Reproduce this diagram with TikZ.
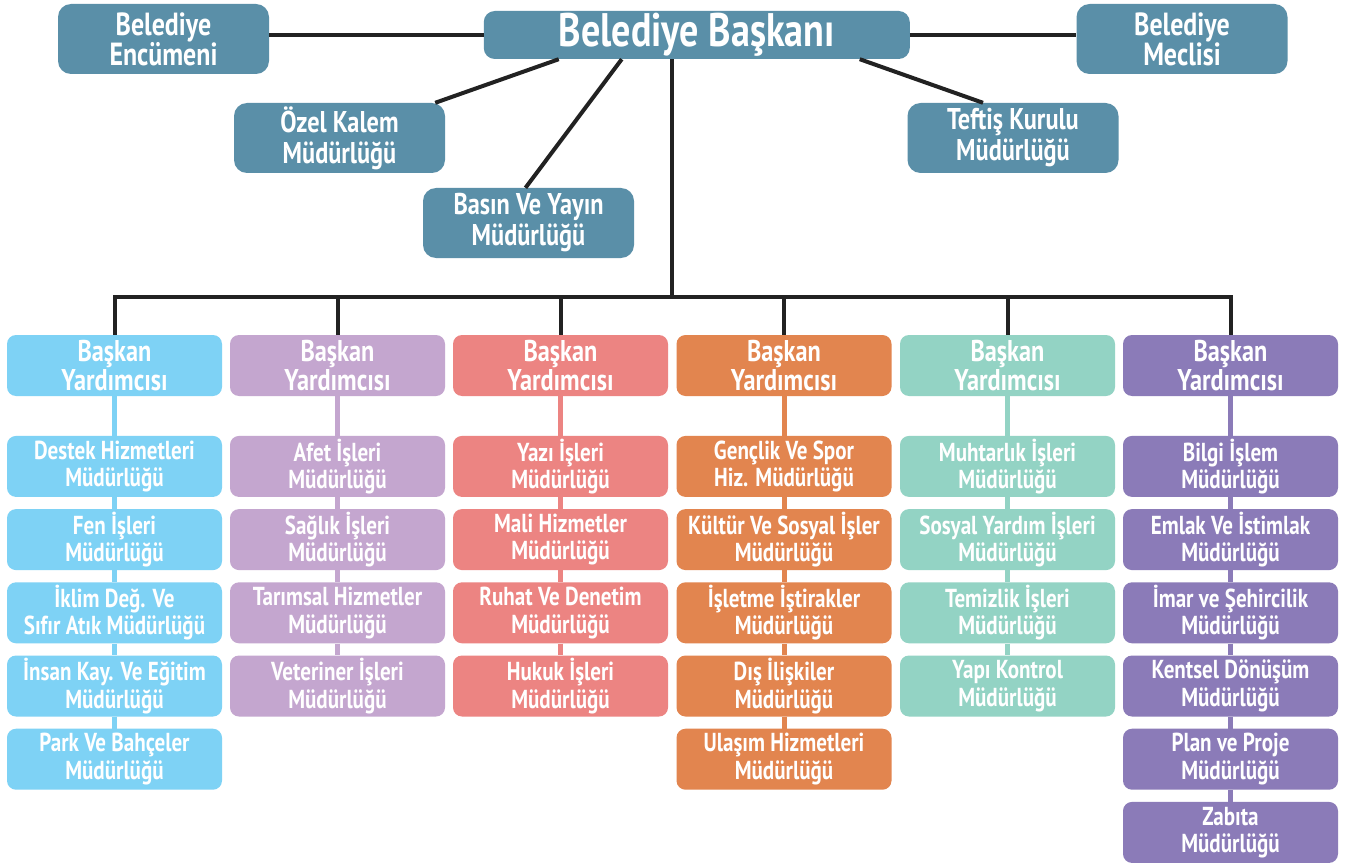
\documentclass[tikz,border=0pt]{standalone}
\usepackage{fontspec}
\setmainfont{PT Sans}[FakeStretch=0.81]
\usepackage{xcolor}
\usepackage{tikz}
\usetikzlibrary{positioning}
\definecolor{headteal}{RGB}{90,143,168}
\definecolor{skyblue}{RGB}{126,210,245}
\definecolor{lilacpurple}{RGB}{196,166,207}
\definecolor{salmonred}{RGB}{236,132,130}
\definecolor{burntorange}{RGB}{226,133,79}
\definecolor{mintgreen}{RGB}{147,211,196}
\definecolor{deeppurple}{RGB}{139,123,184}
\definecolor{darkline}{RGB}{34,34,34}

\begin{document}
\begin{tikzpicture}[x=1pt, y=-1pt, node distance=11.8pt]
    \tikzstyle{head} = [rectangle, rounded corners=13pt, minimum width=211pt, minimum height=70pt, inner sep=0pt, align=center, fill=headteal, text=white, font=\fontsize{32}{30}\selectfont\bfseries]
    \tikzstyle{mayor} = [head, rounded corners=11pt, minimum width=426pt, minimum height=48pt, font=\fontsize{47}{47}\selectfont\bfseries]
    \tikzstyle{office} = [head, font=\fontsize{30}{31}\selectfont\bfseries]
    \tikzstyle{deputy} = [rectangle, rounded corners=9pt, minimum width=215pt, minimum height=61pt, inner sep=0pt, align=center, text=white, font=\fontsize{30}{26}\selectfont\bfseries]
    \tikzstyle{unit} = [deputy, font=\fontsize{26}{27.5}\selectfont\bfseries]
    \tikzstyle{link} = [draw=darkline, line width=4pt]
    \tikzstyle{chain} = [line width=5pt]

    \path[use as bounding box, fill=white] (0,0) rectangle (1358,864);

    % Top level
    \node [mayor] (baskan) at (696.75,35) {Belediye Başkanı};
    \node [head] (encumen) at (163.5,39) {Belediye\\Encümeni};
    \node [head] (meclis) at (1182,39) {Belediye\\Meclisi};
    \node [office] (ozel) at (339.5,138) {Özel Kalem\\Müdürlüğü};
    \node [office] (teftis) at (1013,138) {Teftiş Kurulu\\Müdürlüğü};
    \node [office] (basin) at (528.5,223) {Basın Ve Yayın\\Müdürlüğü};

    % Deputies
    \node [deputy, fill=skyblue] (vp1) at (114.5,365.5) {Başkan\\Yardımcısı};
    \node [deputy, fill=lilacpurple] (vp2) at (337.5,365.5) {Başkan\\Yardımcısı};
    \node [deputy, fill=salmonred] (vp3) at (560.5,365.5) {Başkan\\Yardımcısı};
    \node [deputy, fill=burntorange] (vp4) at (784,365.5) {Başkan\\Yardımcısı};
    \node [deputy, fill=mintgreen] (vp5) at (1007.5,365.5) {Başkan\\Yardımcısı};
    \node [deputy, fill=deeppurple] (vp6) at (1230.5,365.5) {Başkan\\Yardımcısı};

    % Column 1
    \node [unit, fill=skyblue, below=39.5pt of vp1] (destek) {Destek Hizmetleri\\Müdürlüğü};
    \node [unit, fill=skyblue, below=of destek] (fen) {Fen İşleri\\Müdürlüğü};
    \node [unit, fill=skyblue, below=of fen] (iklim) {İklim Değ. Ve\\Sıfır Atık Müdürlüğü};
    \node [unit, fill=skyblue, below=of iklim] (insan) {İnsan Kay. Ve Eğitim\\Müdürlüğü};
    \node [unit, fill=skyblue, below=of insan] (park) {Park Ve Bahçeler\\Müdürlüğü};

    % Column 2
    \node [unit, fill=lilacpurple, below=39.5pt of vp2] (afet) {Afet İşleri\\Müdürlüğü};
    \node [unit, fill=lilacpurple, below=of afet] (saglik) {Sağlık İşleri\\Müdürlüğü};
    \node [unit, fill=lilacpurple, below=of saglik] (tarim) {Tarımsal Hizmetler\\Müdürlüğü};
    \node [unit, fill=lilacpurple, below=of tarim] (veteriner) {Veteriner İşleri\\Müdürlüğü};

    % Column 3
    \node [unit, fill=salmonred, below=39.5pt of vp3] (yazi) {Yazı İşleri\\Müdürlüğü};
    \node [unit, fill=salmonred, below=of yazi] (mali) {Mali Hizmetler\\Müdürlüğü};
    \node [unit, fill=salmonred, below=of mali] (ruhat) {Ruhat Ve Denetim\\Müdürlüğü};
    \node [unit, fill=salmonred, below=of ruhat] (hukuk) {Hukuk İşleri\\Müdürlüğü};

    % Column 4
    \node [unit, fill=burntorange, below=39.5pt of vp4] (genclik) {Gençlik Ve Spor\\Hiz. Müdürlüğü};
    \node [unit, fill=burntorange, below=of genclik] (kultur) {Kültür Ve Sosyal İşler\\Müdürlüğü};
    \node [unit, fill=burntorange, below=of kultur] (isletme) {İşletme İştirakler\\Müdürlüğü};
    \node [unit, fill=burntorange, below=of isletme] (dis) {Dış İlişkiler\\Müdürlüğü};
    \node [unit, fill=burntorange, below=of dis] (ulasim) {Ulaşım Hizmetleri\\Müdürlüğü};

    % Column 5
    \node [unit, fill=mintgreen, below=39.5pt of vp5] (muhtar) {Muhtarlık İşleri\\Müdürlüğü};
    \node [unit, fill=mintgreen, below=of muhtar] (sosyal) {Sosyal Yardım İşleri\\Müdürlüğü};
    \node [unit, fill=mintgreen, below=of sosyal] (temizlik) {Temizlik İşleri\\Müdürlüğü};
    \node [unit, fill=mintgreen, below=of temizlik] (yapi) {Yapı Kontrol\\Müdürlüğü};

    % Column 6
    \node [unit, fill=deeppurple, below=39.5pt of vp6] (bilgi) {Bilgi İşlem\\Müdürlüğü};
    \node [unit, fill=deeppurple, below=of bilgi] (emlak) {Emlak Ve İstimlak\\Müdürlüğü};
    \node [unit, fill=deeppurple, below=of emlak] (imar) {İmar ve Şehircilik\\Müdürlüğü};
    \node [unit, fill=deeppurple, below=of imar] (kentsel) {Kentsel Dönüşüm\\Müdürlüğü};
    \node [unit, fill=deeppurple, below=of kentsel] (plan) {Plan ve Proje\\Müdürlüğü};
    \node [unit, fill=deeppurple, below=of plan] (zabita) {Zabıta\\Müdürlüğü};

    % Top links
    \draw [link] (encumen.east |- baskan.west) -- (baskan.west);
    \draw [link] (baskan.east) -- (baskan.east -| meclis.west);
    \draw [link] ([xshift=-138pt]baskan.south) -- ([xshift=-10pt]ozel.north east);
    \draw [link] ([xshift=-75pt]baskan.south) -- ([xshift=-3pt]basin.north);
    \draw [link] ([xshift=163pt]baskan.south) -- ([xshift=-30pt]teftis.north);

    % Bus to deputies
    \coordinate (bus) at (672,296.5);
    \draw [link] ([xshift=-24.75pt]baskan.south) -- (bus);
    \draw [link] (vp1.north) |- (bus) -| (vp6.north);
    \draw [link] (vp2.north) -- (vp2.north |- bus);
    \draw [link] (vp3.north) -- (vp3.north |- bus);
    \draw [link] (vp4.north) -- (vp4.north |- bus);
    \draw [link] (vp5.north) -- (vp5.north |- bus);

    % Column links
    \draw [chain, skyblue] (vp1) -- (destek) (destek) -- (fen) (fen) -- (iklim) (iklim) -- (insan) (insan) -- (park);
    \draw [chain, lilacpurple] (vp2) -- (afet) (afet) -- (saglik) (saglik) -- (tarim) (tarim) -- (veteriner);
    \draw [chain, salmonred] (vp3) -- (yazi) (yazi) -- (mali) (mali) -- (ruhat) (ruhat) -- (hukuk);
    \draw [chain, burntorange] (vp4) -- (genclik) (genclik) -- (kultur) (kultur) -- (isletme) (isletme) -- (dis) (dis) -- (ulasim);
    \draw [chain, mintgreen] (vp5) -- (muhtar) (muhtar) -- (sosyal) (sosyal) -- (temizlik) (temizlik) -- (yapi);
    \draw [chain, deeppurple] (vp6) -- (bilgi) (bilgi) -- (emlak) (emlak) -- (imar) (imar) -- (kentsel) (kentsel) -- (plan) (plan) -- (zabita);
\end{tikzpicture}
\end{document}
